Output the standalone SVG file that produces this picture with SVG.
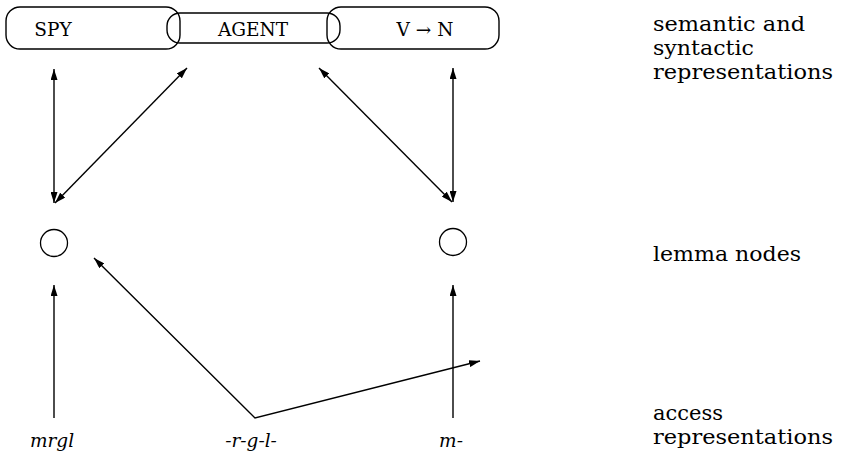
<svg xmlns="http://www.w3.org/2000/svg" width="842" height="458" viewBox="0 0 842 458">
<style>
.box{fill:none;stroke:#000;stroke-width:1.4}
.node{fill:none;stroke:#000;stroke-width:1.3}
.ln{fill:none;stroke:#000;stroke-width:1.4}
.t{font-family:"DejaVu Serif","Liberation Serif",serif;font-size:18.5px;fill:#000}
.it{font-family:"DejaVu Serif","Liberation Serif",serif;font-size:18.5px;font-style:italic;fill:#000}
.lab{font-family:"DejaVu Serif","Liberation Serif",serif;font-size:20px;fill:#000}
</style>
<defs>
<marker id="ah" viewBox="0 0 11 7" refX="11" refY="3.5" markerWidth="11" markerHeight="7" markerUnits="userSpaceOnUse" orient="auto-start-reverse">
<path d="M0,0 L11,3.5 L0,7 z" fill="#000"/>
</marker>
</defs>
<rect width="842" height="458" fill="#fff"/>
<g id="spy"><rect class="box" x="6" y="7" width="174" height="42" rx="14"/><text class="t" x="53" y="36" text-anchor="middle">SPY</text></g>
<g id="agent"><rect class="box" x="167" y="13" width="173" height="30" rx="13"/><text class="t" x="253" y="36" text-anchor="middle">AGENT</text></g>
<g id="vn"><rect class="box" x="327" y="7" width="172" height="42" rx="14"/><text class="t" x="425" y="36" text-anchor="middle">V → N</text></g>
<g id="lemma1"><circle class="node" cx="54" cy="243" r="13.5"/></g>
<g id="lemma2"><circle class="node" cx="453" cy="242" r="13.5"/></g>
<g id="mrgl"><text class="it" x="52" y="447" text-anchor="middle">mrgl</text></g>
<g id="rgl"><text class="it" x="251" y="447" text-anchor="middle">-r-g-l-</text></g>
<g id="m"><text class="it" x="451" y="447" text-anchor="middle">m-</text></g>
<g id="labels">
<text class="lab" x="653" y="31" textLength="152" lengthAdjust="spacingAndGlyphs">semantic and</text>
<text class="lab" x="653" y="55" textLength="101" lengthAdjust="spacingAndGlyphs">syntactic</text>
<text class="lab" x="653" y="79" textLength="180" lengthAdjust="spacingAndGlyphs">representations</text>
<text class="lab" x="653" y="261" textLength="148" lengthAdjust="spacingAndGlyphs">lemma nodes</text>
<text class="lab" x="653" y="420" textLength="70" lengthAdjust="spacingAndGlyphs">access</text>
<text class="lab" x="653" y="444" textLength="180" lengthAdjust="spacingAndGlyphs">representations</text>
</g>
<g id="connectors">
<line class="ln" x1="54" y1="69" x2="54" y2="203" marker-start="url(#ah)" marker-end="url(#ah)"/>
<line class="ln" x1="187" y1="68" x2="55" y2="203" marker-start="url(#ah)" marker-end="url(#ah)"/>
<line class="ln" x1="319" y1="68" x2="452" y2="202" marker-start="url(#ah)" marker-end="url(#ah)"/>
<line class="ln" x1="453" y1="68" x2="453" y2="202" marker-start="url(#ah)" marker-end="url(#ah)"/>
<line class="ln" x1="54" y1="418" x2="54" y2="285" marker-end="url(#ah)"/>
<line class="ln" x1="453" y1="418" x2="453" y2="285" marker-end="url(#ah)"/>
<polyline class="ln" points="94,258 255,418 480,361" marker-start="url(#ah)" marker-end="url(#ah)"/>
</g>
</svg>
